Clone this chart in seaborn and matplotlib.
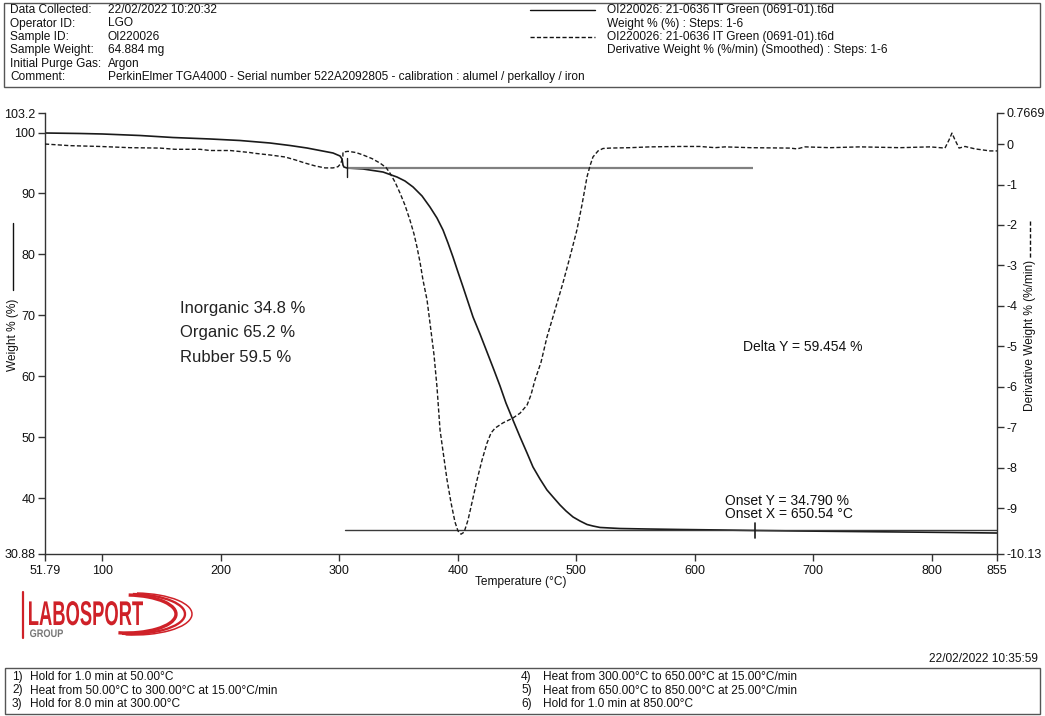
import numpy as np
import pandas as pd
import matplotlib
matplotlib.use("Agg")
import matplotlib.pyplot as plt
import seaborn as sns
from matplotlib.patches import Rectangle, Arc, PathPatch
from matplotlib.lines import Line2D
from matplotlib.textpath import TextPath
from matplotlib.font_manager import FontProperties
from matplotlib.transforms import Affine2D

# ---------------- data ----------------
temp_w = [51.79, 81.3, 99.9, 131.9, 159.8, 191.0, 216.3, 241.6, 258.5, 272.8,
          283.8, 294.8, 300.7, 302.4, 302.8, 303.2, 304.0, 306.6, 320.1, 337.0,
          348.8, 355.5, 362.3, 369.9, 376.6, 382.5, 387.6, 391.8, 396.0, 400.2,
          404.5, 408.7, 412.9, 418.8, 424.7, 430.6, 435.7, 440.7, 446.6, 452.6,
          458.5, 463.5, 469.4, 475.3, 480.4, 486.3, 491.4, 497.3, 503.2, 509.1,
          514.1, 520.1, 536.9, 559.7, 587.6, 621.3, 649.1, 688.8, 731.0, 773.2,
          815.4, 855.0]
weight = [99.92, 99.84, 99.76, 99.51, 99.18, 98.94, 98.69, 98.28, 97.87, 97.46,
          97.05, 96.64, 96.15, 95.66, 95.16, 94.67, 94.34, 94.18, 94.02, 93.52,
          92.70, 92.05, 91.07, 89.59, 87.78, 85.98, 84.01, 81.88, 79.59, 77.13,
          74.67, 72.21, 69.75, 66.96, 64.01, 61.05, 58.43, 55.64, 52.86, 50.07,
          47.44, 45.15, 43.18, 41.38, 40.23, 38.92, 37.93, 36.95, 36.29, 35.72,
          35.47, 35.23, 35.06, 34.98, 34.90, 34.82, 34.74, 34.65, 34.57, 34.49,
          34.41, 34.32]

temp_d = [51.79, 72.9, 98.2, 123.5, 148.8, 161.5, 182.6, 191.0, 207.9, 224.7,
          229.0, 241.6, 254.3, 262.7, 271.2, 279.6, 288.0, 294.8, 299.0, 301.1,
          302.4, 303.1, 303.2, 307.4, 314.2, 320.1, 327.7, 334.4, 339.5, 342.9,
          347.1, 351.3, 355.5, 359.7, 363.1, 365.6, 368.2, 370.7, 374.1, 376.6,
          380.0, 382.5, 385.1, 388.4, 391.0, 394.4, 397.7, 400.2, 402.8, 405.4,
          408.7, 412.1, 416.3, 420.5, 424.7, 428.1, 431.5, 438.2, 446.6, 452.6,
          458.5, 461.8, 465.2, 470.3, 475.3, 482.1, 488.8, 494.7, 500.6, 504.8,
          509.1, 511.6, 514.1, 518.4, 522.6, 528.5, 545.4, 562.2, 587.6, 604.4,
          617.1, 625.5, 646.6, 680.3, 686.3, 693.0, 714.1, 739.4, 773.2, 798.5,
          811.1, 814.5, 817.0, 819.6, 823.0, 828.0, 836.5, 849.1, 855.0]
deriv = [0.00, -0.04, -0.06, -0.09, -0.10, -0.13, -0.13, -0.16, -0.16, -0.21,
         -0.23, -0.27, -0.32, -0.39, -0.47, -0.54, -0.59, -0.59, -0.56, -0.49,
         -0.39, -0.30, -0.20, -0.18, -0.21, -0.27, -0.36, -0.47, -0.58, -0.72,
         -0.94, -1.21, -1.51, -1.88, -2.22, -2.54, -2.92, -3.36, -3.85, -4.42,
         -5.21, -6.00, -7.07, -7.76, -8.30, -8.87, -9.34, -9.56, -9.64, -9.59,
         -9.29, -8.85, -8.30, -7.81, -7.39, -7.14, -7.02, -6.89, -6.77, -6.65,
         -6.45, -6.20, -5.83, -5.39, -4.77, -4.10, -3.43, -2.79, -2.12, -1.51,
         -0.81, -0.54, -0.32, -0.17, -0.11, -0.10, -0.09, -0.07, -0.06, -0.06,
         -0.09, -0.07, -0.09, -0.10, -0.12, -0.07, -0.09, -0.07, -0.09, -0.07,
         -0.10, 0.10, 0.27, 0.10, -0.10, -0.06, -0.12, -0.17, -0.17]

baseline_t = [306.6, 649.1]
baseline_w = [94.2, 94.2]
onset_line_t = [304.9, 855.0]
onset_line_w = [34.79, 34.79]
onset_x = 650.54
start_tick_t = 306.6

x_ticks = [51.79, 100, 200, 300, 400, 500, 600, 700, 800, 855]
x_labels = ["51.79", "100", "200", "300", "400", "500", "600", "700", "800", "855"]
yl_ticks = [30.88, 40, 50, 60, 70, 80, 90, 100, 103.2]
yl_labels = ["30.88", "40", "50", "60", "70", "80", "90", "100", "103.2"]
yr_ticks = [-10.13, -9, -8, -7, -6, -5, -4, -3, -2, -1, 0, 0.7669]
yr_labels = ["-10.13", "-9", "-8", "-7", "-6", "-5", "-4", "-3", "-2", "-1", "0", "0.7669"]

header_labels = ["Data Collected:", "Operator ID:", "Sample ID:", "Sample Weight:",
                 "Initial Purge Gas:", "Comment:"]
header_values = ["22/02/2022 10:20:32", "LGO", "OI220026", "64.884 mg", "Argon",
                 "PerkinElmer TGA4000 - Serial number 522A2092805 - calibration : alumel / perkalloy / iron"]
legend_texts = ["OI220026: 21-0636 IT Green (0691-01).t6d", "Weight % (%) : Steps: 1-6",
                "OI220026: 21-0636 IT Green (0691-01).t6d",
                "Derivative Weight % (%/min) (Smoothed) : Steps: 1-6"]
steps_left = ["Hold for 1.0 min at 50.00°C", "Heat from 50.00°C to 300.00°C at 15.00°C/min",
              "Hold for 8.0 min at 300.00°C"]
steps_right = ["Heat from 300.00°C to 650.00°C at 15.00°C/min",
               "Heat from 650.00°C to 850.00°C at 25.00°C/min",
               "Hold for 1.0 min at 850.00°C"]
results = ["Inorganic 34.8 %", "Organic 65.2 %", "Rubber 59.5 %"]

# ---------------- style ----------------
sns.set_theme(style="ticks")
plt.rcParams["font.family"] = ["Liberation Sans", "DejaVu Sans"]
W, H = 1045, 716
fig = plt.figure(figsize=(W / 100, H / 100), dpi=100)
fig.patch.set_facecolor("white")

ax = fig.add_axes([45 / W, 1 - 554 / H, (997 - 45) / W, (554 - 113) / H])
ax2 = ax.twinx()

dfw = pd.DataFrame({"T": temp_w, "W": weight})
dfd = pd.DataFrame({"T": temp_d, "D": deriv})
sns.lineplot(data=dfw, x="T", y="W", ax=ax, sort=False, estimator=None,
             color="#1a1a1a", lw=1.2)
sns.lineplot(data=dfd, x="T", y="D", ax=ax2, sort=False, estimator=None,
             color="#1a1a1a", lw=1.0, linestyle=(0, (3, 1.6)))

ax.plot(baseline_t, baseline_w, color="#808080", lw=1.6, solid_capstyle="butt")
ax.plot(onset_line_t, onset_line_w, color="#3a3a3a", lw=1.0)
ax.plot([onset_x, onset_x], [36.0, 33.5], color="#1a1a1a", lw=1.2)
ax.plot([start_tick_t, start_tick_t], [95.8, 92.7], color="#1a1a1a", lw=1.0)

ax.set_xlim(51.79, 855)
ax.set_ylim(30.88, 103.2)
ax2.set_ylim(-10.13, 0.7669)
ax.set_xticks(x_ticks)
ax.set_xticklabels(x_labels)
ax.set_yticks(yl_ticks)
ax.set_yticklabels(yl_labels)
ax2.set_yticks(yr_ticks)
ax2.set_yticklabels(yr_labels)
ax.set_xlabel("")
ax.set_ylabel("")
ax2.set_ylabel("")

for a in (ax, ax2):
    a.spines["top"].set_visible(False)
    for s in a.spines.values():
        s.set_color("#333333")
        s.set_linewidth(1.0)
    a.tick_params(direction="out", length=5, width=1, color="#333333",
                  labelsize=9, labelcolor="#111111", pad=2)
ax.spines["right"].set_visible(False)
ax2.spines["left"].set_visible(False)
ax2.spines["bottom"].set_visible(False)
ax.tick_params(axis="x", pad=3)

# ---------------- overlay (page furniture) ----------------
ov = fig.add_axes([0, 0, 1, 1], zorder=10)
ov.set_xlim(0, W)
ov.set_ylim(H, 0)
ov.axis("off")
ov.patch.set_alpha(0)

fs = 8.6
ov.add_patch(Rectangle((4, 3), 1036, 84, fill=False, ec="#555555", lw=1.0))
rows = [10, 23.5, 37, 50, 63.5, 77]
for y, lab, val in zip(rows, header_labels, header_values):
    ov.text(10, y, lab, fontsize=fs, va="center", ha="left", color="#111111")
    ov.text(108, y, val, fontsize=fs, va="center", ha="left", color="#111111")
ov.add_line(Line2D([530, 595], [10, 10], color="#111111", lw=1.0))
ov.add_line(Line2D([530, 595], [37, 37], color="#111111", lw=1.0, linestyle=(0, (3, 1.6))))
for y, t in zip(rows[:4], legend_texts):
    ov.text(607, y, t, fontsize=fs, va="center", ha="left", color="#111111")

# axis labels with line samples
ov.text(13, 335, "Weight % (%)", fontsize=fs, rotation=90, va="center", ha="center", color="#111111")
ov.add_line(Line2D([13, 13], [223, 290], color="#111111", lw=1.0))
ov.text(1030, 335, "Derivative Weight % (%/min)", fontsize=fs, rotation=90,
        va="center", ha="center", color="#111111")
ov.add_line(Line2D([1030, 1030], [221, 258], color="#111111", lw=1.0, linestyle=(0, (3, 1.6))))
ov.text(521, 582, "Temperature (°C)", fontsize=fs, va="center", ha="center", color="#111111")

# annotations
for y, t in zip([308, 333, 357], results):
    ov.text(180, y, t, fontsize=12, va="center", ha="left", color="#222222")
ov.text(743, 347, "Delta Y = 59.454 %", fontsize=10, va="center", ha="left", color="#111111")
ov.text(725, 501, "Onset Y = 34.790 %", fontsize=10, va="center", ha="left", color="#111111")
ov.text(725, 514, "Onset X = 650.54 °C", fontsize=10, va="center", ha="left", color="#111111")

# footer
ov.text(1038, 659, "22/02/2022 10:35:59", fontsize=fs, va="center", ha="right", color="#111111")
ov.add_patch(Rectangle((5, 668), 1035, 46, fill=False, ec="#555555", lw=1.0))
frows = [677, 690.5, 704]
for i, (y, t) in enumerate(zip(frows, steps_left)):
    ov.text(12, y, f"{i + 1})", fontsize=fs, va="center", ha="left", color="#111111")
    ov.text(30, y, t, fontsize=fs, va="center", ha="left", color="#111111")
for i, (y, t) in enumerate(zip(frows, steps_right)):
    ov.text(521, y, f"{i + 4})", fontsize=fs, va="center", ha="left", color="#111111")
    ov.text(543, y, t, fontsize=fs, va="center", ha="left", color="#111111")

# logo
red = "#cf2128"
def path_text(s, x0, ybase, width, capheight, color, weight="bold"):
    fp = FontProperties(family="Liberation Sans", weight=weight)
    tp = TextPath((0, 0), s, size=1, prop=fp)
    ext = tp.get_extents()
    sx = width / ext.width
    sy = capheight / 0.729
    tr = Affine2D().translate(-ext.x0, 0).scale(sx, -sy).translate(x0, ybase) + ov.transData
    ov.add_patch(PathPatch(tp, transform=tr, fc=color, ec="none"))

ov.add_line(Line2D([23, 23], [592, 638], color=red, lw=1.6))
path_text("LABOSPORT", 29, 625, 114, 25, red)
path_text("GROUP", 30, 637, 33, 8, "#777777")
for cx, a, b, lw in [(126, 50, 38, 2.4), (130, 55, 40, 1.7), (134, 58, 42, 1.1)]:
    ov.add_patch(Arc((cx, 614), 2 * a, b, theta1=-82, theta2=112, color=red, lw=lw))

fig.savefig("out.png", dpi=100, facecolor="white")
